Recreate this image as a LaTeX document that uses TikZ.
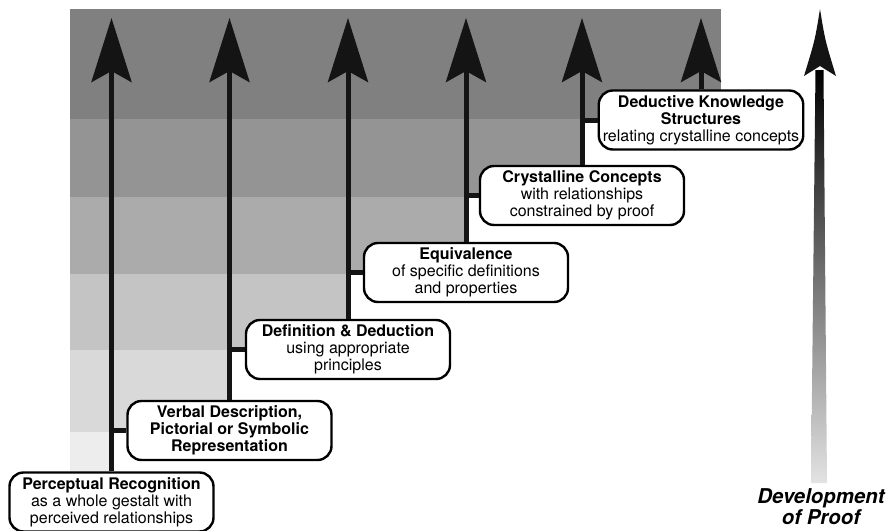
\documentclass[tikz,border=0pt]{standalone}
\usepackage{fontspec}
\setmainfont{TeX Gyre Heros}
\usetikzlibrary{arrows.meta}

\tikzset{
  stage/.style={draw, line width=1.2pt, rounded corners=7pt, fill=white, align=center,
    minimum width=102pt, minimum height=29.5pt, inner xsep=2pt, inner ysep=1pt,
    font=\fontsize{8}{8.5}\selectfont},
  uparrow/.style={line width=2.5pt, draw=black!92, -{Stealth[length=32pt,width=20pt,inset=5.5pt]}},
  branch/.style={line width=2.5pt, draw=black!92},
}

\begin{document}
\begin{tikzpicture}[x=0.5pt,y=-0.5pt]
        \useasboundingbox (0,0) rectangle (891,531);

        % Bands.
        \foreach \tone/\right/\upper/\lower in {50/721/9/119,42/580/119/197,33/465/197/274,23/347/274/350,15/229/350/432,7/112/432/474}
            \fill[black!\tone] (70,\upper) rectangle (\right,\lower);

        % Stages.
        \node[stage] (percept) at (111.5,502) {\textbf{Perceptual Recognition}\\as a whole gestalt with\\perceived relationships};
        \node[stage] (verbal) at (229.5,430.5) {\textbf{Verbal Description,}\\\textbf{Pictorial or Symbolic}\\\textbf{Representation}};
        \node[stage] (defin) at (348,349.5) {\textbf{Definition \& Deduction}\\using appropriate\\principles};
        \node[stage] (equiv) at (466,272.5) {\textbf{Equivalence}\\of specific definitions\\and properties};
        \node[stage] (cryst) at (582,195.5) {\textbf{Crystalline Concepts}\\with relationships\\constrained by proof};
        \node[stage] (deduct) at (701,120) {\textbf{Deductive Knowledge}\\\textbf{Structures}\\relating crystalline concepts};

        % Arrows.
        \coordinate (top) at (0,18);
        \foreach \lo in {percept,verbal,defin,equiv,cryst,deduct}
            \draw[uparrow] (\lo.north) -- (\lo.north |- top);
        \foreach \lo/\hi in {percept/verbal,verbal/defin,defin/equiv,equiv/cryst,cryst/deduct}
            \draw[branch] (\hi.west -| \lo.north) -- (\hi.west);

        % Proof.
        \node[font=\fontsize{10.2}{10.6}\selectfont\bfseries\itshape, align=center] (proof) at (821,507) {Development\\of Proof};
        \shade[top color=black, bottom color=black!11] (811,483) -- (827,483) -- (823.5,70) -- (815.5,70) -- cycle;
        \fill[black!92] (820,9) .. controls (825,40) .. (836,76) -- (820,66) -- (804,76) .. controls (815,40) .. (820,9) -- cycle;
    \end{tikzpicture}
\end{document}
